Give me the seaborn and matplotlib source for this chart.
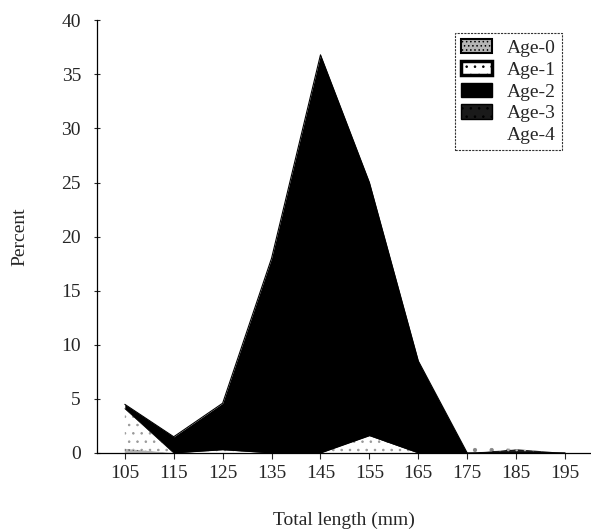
import seaborn as sns
import matplotlib.pyplot as plt
import numpy as np
from matplotlib.patches import Patch

# longitud total (mm) y porcentaje por edad
longitud = [105, 115, 125, 135, 145, 155, 165, 175, 185, 195]
edad_0 = [0.4, 0, 0, 0, 0, 0, 0, 0, 0, 0]
edad_1 = [3.7, 0, 0.3, 0, 0, 1.6, 0, 0, 0, 0]
edad_2 = [0.4, 1.5, 4.3, 18.0, 36.8, 23.4, 8.5, 0, 0, 0]
edad_3 = [0, 0, 0, 0, 0, 0, 0, 0, 0.35, 0]
edad_4 = [0, 0, 0, 0, 0, 0, 0, 0.7, 0, 0]
etiquetas = ["Age-0", "Age-1", "Age-2", "Age-3", "Age-4"]
ticks_x = [105, 115, 125, 135, 145, 155, 165, 175, 185, 195]
ticks_y = [0, 5, 10, 15, 20, 25, 30, 35, 40]

sns.set_theme(style="ticks")
plt.rcParams["font.family"] = ["Liberation Serif", "DejaVu Serif"]
plt.rcParams["hatch.linewidth"] = 0.6

# estilo de cada capa (relleno, color del rayado, rayado)
estilos = [
    dict(facecolor="#b5b5b5", edgecolor="#555555", hatch="...."),
    dict(facecolor="white", edgecolor="#999999", hatch=".."),
    dict(facecolor="black", edgecolor="black", hatch=None),
    dict(facecolor="#1a1a1a", edgecolor="#bbbbbb", hatch=".."),
    dict(facecolor="white", edgecolor="#888888", hatch=". "),
]

fig = plt.figure(figsize=(5.91, 5.32), dpi=100)
ax = fig.add_axes([0.164, 0.1485, 0.836, 0.8135])

capas = [edad_0, edad_1, edad_2, edad_3, edad_4]
base = np.zeros(len(longitud))
for valores, est in zip(capas, estilos):
    tope = base + np.array(valores)
    ax.fill_between(longitud, base, tope, facecolor=est["facecolor"],
                    edgecolor=est["edgecolor"], hatch=est["hatch"], linewidth=0)
    base = tope

# contorno de la capa negra (edades 0-2 acumuladas)
acum_2 = np.array(edad_0) + np.array(edad_1) + np.array(edad_2)
sns.lineplot(x=longitud, y=acum_2, color="black", linewidth=0.8, ax=ax)
sns.lineplot(x=longitud, y=np.array(edad_0) + np.array(edad_1), color="black",
             linewidth=0.5, ax=ax)

ax.set_xlim(99.3, 200.3)
ax.set_ylim(0, 40)
ax.set_xticks(ticks_x)
ax.set_yticks(ticks_y)
ax.tick_params(axis="x", direction="out", length=4, width=0.8, labelsize=14, pad=5)
ax.tick_params(axis="y", direction="inout", length=5, width=0.8, labelsize=14, pad=9)
for s in ["top", "right"]:
    ax.spines[s].set_visible(False)
for s in ["left", "bottom"]:
    ax.spines[s].set_linewidth(0.9)
    ax.spines[s].set_color("black")

ax.set_xlabel("Total length (mm)", fontsize=14, labelpad=21)
ax.set_ylabel("Percent", fontsize=14, labelpad=24)

# leyenda con cajas
handles = [
    Patch(facecolor=estilos[0]["facecolor"], edgecolor="black", hatch="....", linewidth=1.5),
    Patch(facecolor="white", edgecolor="black", hatch="..", linewidth=2.5),
    Patch(facecolor="black", edgecolor="black"),
    Patch(facecolor="#1a1a1a", edgecolor="black", hatch=".."),
    Patch(facecolor="white", edgecolor="white", hatch=". "),
]
leg = ax.legend(handles, etiquetas, loc="upper right", bbox_to_anchor=(0.941, 0.97),
                fontsize=14, frameon=True, fancybox=False, handlelength=1.6,
                handleheight=0.75, labelspacing=0.2, borderpad=0.3,
                handletextpad=0.75, borderaxespad=0)
leg.get_frame().set_edgecolor("black")
leg.get_frame().set_linewidth(0.8)
leg.get_frame().set_linestyle((0, (2, 1)))

plt.savefig("out.png", dpi=100)
plt.close()
